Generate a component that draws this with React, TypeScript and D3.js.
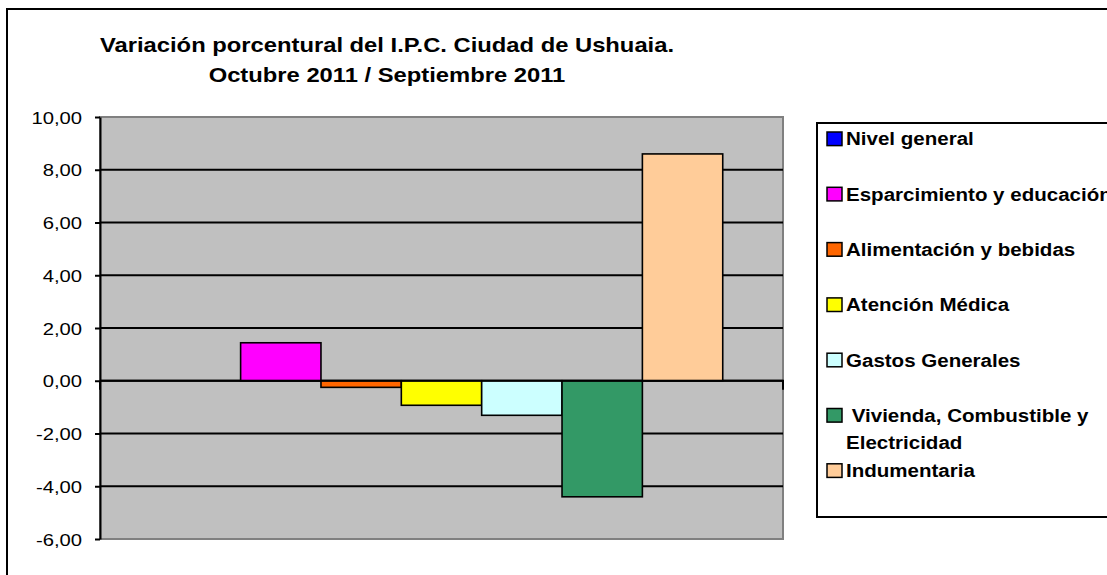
import React from 'react'
import * as d3 from 'd3'

// one category, seven series (variación % oct 2011 / sep 2011)
const categories = ['Octubre 2011']
const seriesNames = [
  'Nivel general',
  'Esparcimiento y educación',
  'Alimentación y bebidas',
  'Atención Médica',
  'Gastos Generales',
  ' Vivienda, Combustible y\nElectricidad',
  'Indumentaria',
]
const seriesValues = [0.0, 1.44, -0.25, -0.93, -1.31, -4.4, 8.6]
const seriesColors = ['#0000FF', '#FF00FF', '#FF6600', '#FFFF00', '#CCFFFF', '#339966', '#FFCC99']
const yTicks = [-6, -4, -2, 0, 2, 4, 6, 8, 10]
const titleLines = ['Variación porcentural del I.P.C. Ciudad de Ushuaia.', 'Octubre 2011 / Septiembre 2011']

const FONT = '"Liberation Sans", Arial, sans-serif'

export default function App() {
  const svgRef = React.useRef<SVGSVGElement>(null)
  const width = 1107
  const height = 575

  React.useEffect(() => {
    const svg = d3.select(svgRef.current)
    svg.selectAll('*').remove()

    const plot = { left: 100, right: 783, top: 117, bottom: 539 }

    const locale = d3.formatLocale({ decimal: ',', thousands: '.', grouping: [3], currency: ['', ''], minus: '-' })
    const fmt = locale.format('.2f')

    const yScale = d3.scaleLinear().domain([-6, 10]).range([plot.bottom, plot.top])
    const xScale = d3.scaleBand()
      .domain(categories)
      .range([plot.left, plot.right])
      .paddingInner(0)
      .paddingOuter(0.75 / 7)
    const xInner = d3.scaleBand()
      .domain(seriesNames)
      .range([0, xScale.bandwidth()])
      .padding(0)

    // outer chart frame
    svg.append('rect')
      .attr('x', 7).attr('y', 9)
      .attr('width', 1200).attr('height', 700)
      .attr('fill', '#fff')
      .attr('stroke', '#000')
      .attr('stroke-width', 2)

    // title
    const title = svg.append('g')
      .style('font-family', FONT)
      .style('font-weight', 'bold')
      .style('font-size', '20.5px')
    titleLines.forEach((t, i) => {
      title.append('text')
        .attr('text-anchor', 'middle')
        .attr('transform', `translate(387,${52 + i * 30}) scale(1.16,1)`)
        .text(t)
    })

    // plot area
    svg.append('rect')
      .attr('x', plot.left).attr('y', plot.top)
      .attr('width', plot.right - plot.left)
      .attr('height', plot.bottom - plot.top)
      .attr('fill', '#C0C0C0')
      .attr('stroke', '#808080')
      .attr('stroke-width', 2)

    // gridlines
    svg.append('g')
      .selectAll('line')
      .data(yTicks.filter(d => d !== 10 && d !== -6))
      .enter()
      .append('line')
      .attr('x1', plot.left).attr('x2', plot.right)
      .attr('y1', d => yScale(d)).attr('y2', d => yScale(d))
      .attr('stroke', '#000')
      .attr('stroke-width', 1.8)

    // bars
    const cat = categories[0]
    svg.append('g')
      .selectAll('rect')
      .data(seriesValues)
      .enter()
      .append('rect')
      .attr('x', (d, i) => (xScale(cat) as number) + (xInner(seriesNames[i]) as number))
      .attr('width', xInner.bandwidth())
      .attr('y', d => yScale(Math.max(0, d)))
      .attr('height', d => Math.abs(yScale(d) - yScale(0)))
      .attr('fill', (d, i) => seriesColors[i])
      .attr('stroke', '#000')
      .attr('stroke-width', 1.6)

    // category axis (zero line) with end ticks
    const zeroY = yScale(0)
    svg.append('line')
      .attr('x1', plot.left).attr('x2', plot.right + 1)
      .attr('y1', zeroY).attr('y2', zeroY)
      .attr('stroke', '#000').attr('stroke-width', 2)
    ;[plot.left, plot.right].forEach(x => {
      svg.append('line')
        .attr('x1', x).attr('x2', x)
        .attr('y1', zeroY).attr('y2', zeroY + 9)
        .attr('stroke', '#000').attr('stroke-width', 2)
    })

    // value axis
    const yAxis = svg.append('g')
      .attr('transform', `translate(${plot.left},0)`)
      .call(d3.axisLeft(yScale).tickValues(yTicks).tickFormat(d => fmt(d as number)).tickSize(5).tickSizeOuter(0))
    yAxis.select('.domain').attr('stroke', '#000').attr('stroke-width', 2)
    yAxis.selectAll('.tick line').attr('stroke', '#000').attr('stroke-width', 2)
    yAxis.selectAll('.tick text')
      .attr('x', 0)
      .attr('dy', '0.36em')
      .attr('fill', '#000')
      .attr('transform', 'translate(-18,0) scale(1.19,1)')
      .style('font-family', FONT)
      .style('font-size', '17px')

    // legend
    svg.append('rect')
      .attr('x', 817).attr('y', 123)
      .attr('width', 400).attr('height', 394)
      .attr('fill', '#fff')
      .attr('stroke', '#000')
      .attr('stroke-width', 2)

    const legend = svg.append('g')
      .style('font-family', FONT)
      .style('font-weight', 'bold')
      .style('font-size', '18.5px')
    seriesNames.forEach((name, i) => {
      const cy = 138.8 + i * 55.3
      legend.append('rect')
        .attr('x', 827).attr('y', cy - 6.8)
        .attr('width', 15).attr('height', 13.6)
        .attr('fill', seriesColors[i])
        .attr('stroke', '#000')
        .attr('stroke-width', 1.5)
      name.split('\n').forEach((line, j) => {
        legend.append('text')
          .attr('transform', `translate(846,${cy + 6.5 + j * 26.7}) scale(1.11,1)`)
          .style('white-space', 'pre')
          .text(line)
      })
    })
  }, [])

  return (
    <div style={{ position: 'fixed', left: 0, top: 0, width, height, background: '#fff' }}>
      <svg width={width} height={height} ref={svgRef} style={{ display: 'block' }}></svg>
    </div>
  )
}
